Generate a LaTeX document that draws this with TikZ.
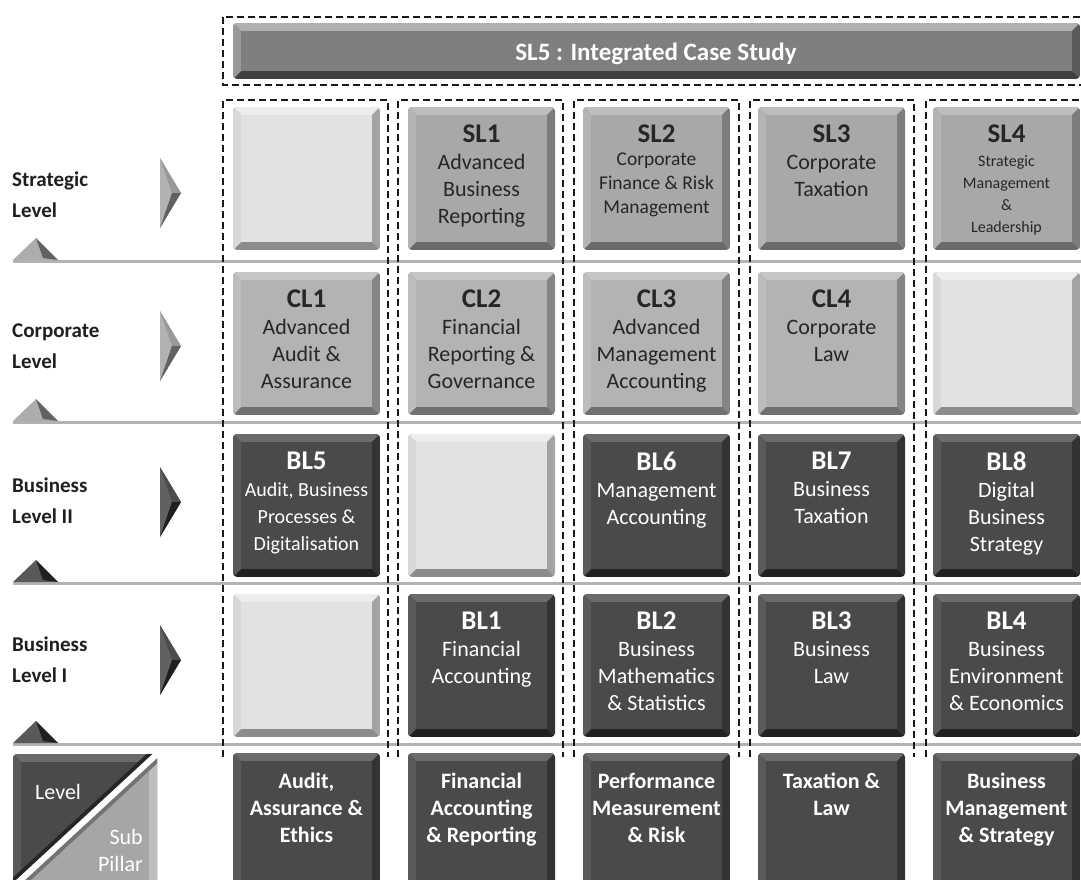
\documentclass[tikz,border=0pt]{standalone}
\usepackage{fontspec}
\setmainfont{Carlito}
\usepackage{xcolor}
\usetikzlibrary{positioning}

% tile shades: face, top, left, right, bottom
\definecolor{lgface}{HTML}{E2E2E2}
\definecolor{lgtop}{HTML}{EDEDED}
\definecolor{lgleft}{HTML}{D8D8D8}
\definecolor{lgright}{HTML}{A3A3A3}
\definecolor{lgbot}{HTML}{8C8C8C}
\definecolor{slface}{HTML}{A8A8A8}
\definecolor{sltop}{HTML}{BDBDBD}
\definecolor{slleft}{HTML}{B4B4B4}
\definecolor{slright}{HTML}{7C7C7C}
\definecolor{slbot}{HTML}{6A6A6A}
\definecolor{clface}{HTML}{B3B3B3}
\definecolor{cltop}{HTML}{C6C6C6}
\definecolor{clleft}{HTML}{BDBDBD}
\definecolor{clright}{HTML}{858585}
\definecolor{clbot}{HTML}{707070}
\definecolor{dkface}{HTML}{4A4A4A}
\definecolor{dktop}{HTML}{6B6B6B}
\definecolor{dkleft}{HTML}{5A5A5A}
\definecolor{dkright}{HTML}{333333}
\definecolor{dkbot}{HTML}{222222}
\definecolor{brface}{HTML}{7F7F7F}
\definecolor{brtop}{HTML}{B0B0B0}
\definecolor{brleft}{HTML}{9A9A9A}
\definecolor{brright}{HTML}{5A5A5A}
\definecolor{brbot}{HTML}{404040}
\definecolor{plface}{HTML}{A6A6A6}
\definecolor{pltop}{HTML}{BDBDBD}
\definecolor{plleft}{HTML}{B0B0B0}
\definecolor{plright}{HTML}{BEBEBE}
\definecolor{plbot}{HTML}{8A8A8A}

% bevelled tile: shade, x, y, width, height, bevel
\newcommand{\bevtile}[6]{%
  \begin{scope}
    \clip[rounded corners=4pt] (#2,#3) rectangle ({#2+#4},{#3+#5});
    \fill[fill=#1bot] (#2,#3) rectangle ({#2+#4},{#3+#5});
    \fill[fill=#1top] (#2,#3) -- ({#2+#4},#3) -- ({#2+#4-#6},{#3+#6}) -- ({#2+#6},{#3+#6}) -- cycle;
    \fill[fill=#1left] (#2,#3) -- ({#2+#6},{#3+#6}) -- ({#2+#6},{#3+#5-#6}) -- (#2,{#3+#5}) -- cycle;
    \fill[fill=#1right] ({#2+#4},#3) -- ({#2+#4},{#3+#5}) -- ({#2+#4-#6},{#3+#5-#6}) -- ({#2+#4-#6},{#3+#6}) -- cycle;
    \fill[fill=#1face] ({#2+#6},{#3+#6}) rectangle ({#2+#4-#6},{#3+#5-#6});
  \end{scope}}
\newcommand{\ttl}[1]{{\bfseries\fontsize{27}{27}\selectfont #1}}

\begin{document}
\begin{tikzpicture}[x=1pt, y=-1pt,
  tiletext/.style={anchor=north, align=center, inner sep=0pt, text=black!85,
    font=\fontsize{22}{27}\selectfont},
  darktext/.style={tiletext, text=white},
  pillartext/.style={darktext, font=\bfseries\fontsize{22}{27}\selectfont},
  levellabel/.style={anchor=north west, align=left, inner sep=0pt, text=black!88,
    font=\bfseries\fontsize{21}{31}\selectfont},
  dashbox/.style={draw=black!90, line width=2pt, dash pattern=on 7pt off 4pt},
  rowline/.style={draw=black!30, line width=3pt}]
  \useasboundingbox (0,0) rectangle (1081,879);
  \clip (0,0) rectangle (1081,879);

  % Level separators
  \foreach \yl in {261,422,583,744}
    \draw[rowline] (13,\yl) -- (1081,\yl);

  % Dashed groups: integrated case and the five pillars
  \draw[dashbox] (223,17) rectangle (1095,85);
  \foreach \xa/\xb in {223/388, 398/563, 574/739, 750/914, 926/1095}
    \draw[dashbox] (\xa,757) -- (\xa,100) -- (\xb,100) -- (\xb,757);

  % Integrated case study bar
  \bevtile{br}{233}{23}{847}{56}{8}
  \node[anchor=base, text=white, font=\bfseries\fontsize{25}{30}\selectfont] (sl5) at (656,60)
    {SL5 : Integrated Case Study};

  % Tiles (shade/left edge), one row at a time
  \foreach \s/\x in {lg/233, sl/408, sl/583, sl/758, sl/933}
    \bevtile{\s}{\x}{107}{147}{143}{8};
  \foreach \s/\x in {cl/233, cl/408, cl/583, cl/758, lg/933}
    \bevtile{\s}{\x}{272}{147}{143}{8};
  \foreach \s/\x in {dk/233, lg/408, dk/583, dk/758, dk/933}
    \bevtile{\s}{\x}{434}{147}{143}{8};
  \foreach \s/\x in {lg/233, dk/408, dk/583, dk/758, dk/933}
    \bevtile{\s}{\x}{594}{147}{143}{8};
  \foreach \x in {233,408,583,758,933}
    \bevtile{dk}{\x}{753}{147}{150}{8};

  % Strategic level
  \node[tiletext] (sl1) at (481.5,125) {\ttl{SL1}\\Advanced\\Business\\Reporting};
  \node[tiletext, font=\fontsize{19.5}{24}\selectfont] (sl2) at (656.5,125)
    {\ttl{SL2}\\[-1pt]Corporate\\Finance \& Risk\\Management};
  \node[tiletext] (sl3) at (831.5,125) {\ttl{SL3}\\Corporate\\Taxation};
  \node[tiletext, font=\fontsize{16}{22}\selectfont] (sl4) at (1006.5,125)
    {\ttl{SL4}\\[2pt]Strategic\\Management\\\&\\Leadership};
  % Corporate level
  \node[tiletext] (cl1) at (306.5,290) {\ttl{CL1}\\Advanced\\Audit \&\\Assurance};
  \node[tiletext] (cl2) at (481.5,290) {\ttl{CL2}\\Financial\\Reporting \&\\Governance};
  \node[tiletext] (cl3) at (656.5,290) {\ttl{CL3}\\Advanced\\Management\\Accounting};
  \node[tiletext] (cl4) at (831.5,290) {\ttl{CL4}\\Corporate\\Law};
  % Business level II
  \node[darktext, font=\fontsize{20}{27}\selectfont] (bl5) at (306.5,452)
    {\ttl{BL5}\\Audit, Business\\Processes \&\\Digitalisation};
  \node[darktext] (bl6) at (656.5,452) {\ttl{BL6}\\Management\\Accounting};
  \node[darktext] (bl7) at (831.5,452) {\ttl{BL7}\\Business\\Taxation};
  \node[darktext] (bl8) at (1006.5,452) {\ttl{BL8}\\Digital\\Business\\Strategy};
  % Business level I
  \node[darktext] (bl1) at (481.5,612) {\ttl{BL1}\\Financial\\Accounting};
  \node[darktext] (bl2) at (656.5,612) {\ttl{BL2}\\Business\\Mathematics\\\& Statistics};
  \node[darktext] (bl3) at (831.5,612) {\ttl{BL3}\\Business\\Law};
  \node[darktext] (bl4) at (1006.5,612) {\ttl{BL4}\\Business\\Environment\\\& Economics};
  % Pillars
  \node[pillartext] (paudit) at (306.5,773) {Audit,\\Assurance \&\\Ethics};
  \node[pillartext] (pfin) at (481.5,773) {Financial\\Accounting\\\& Reporting};
  \node[pillartext] (pperf) at (656.5,773) {Performance\\Measurement\\\& Risk};
  \node[pillartext] (ptax) at (831.5,773) {Taxation \&\\Law};
  \node[pillartext] (pbus) at (1006.5,773) {Business\\Management\\\& Strategy};

  % Level names
  \node[levellabel] (lvls) at (12,172) {Strategic\\Level};
  \node[levellabel] (lvlc) at (12,324) {Corporate\\Level};
  \node[levellabel] (lvlb2) at (12,478) {Business\\Level II};
  \node[levellabel] (lvlb1) at (12,637) {Business\\Level I};

  % Level pointers (centre/main/upper facet/lower facet)
  \foreach \yc/\ca/\cb/\cc in {193/black!30/black!40/black!62, 346/black!30/black!40/black!62,
      502/black!62/black!70/black!88, 660/black!62/black!70/black!88} {
    \fill[\ca] (160,{\yc-35}) -- (181,\yc) -- (160,{\yc+35}) -- cycle;
    \fill[\cb] (160,{\yc-35}) -- (181,\yc) -- (172,\yc) -- cycle;
    \fill[\cc] (172,\yc) -- (181,\yc) -- (160,{\yc+35}) -- cycle;
  }
  % Small markers on the separators
  \foreach \yl/\ca/\cb in {261/black!32/black!62, 422/black!32/black!62,
      583/black!65/black!88, 744/black!65/black!88} {
    \fill[\ca] (13,{\yl-1}) -- (36,{\yl-23}) -- (58,{\yl-1}) -- cycle;
    \fill[\cb] (36,{\yl-23}) -- (58,{\yl-1}) -- (43,{\yl-3}) -- cycle;
  }

  % Level / Sub Pillar key
  \coordinate (dga) at (157,754);
  \coordinate (dgb) at (13,887);
  \bevtile{dk}{13}{754}{144}{150}{8}
  \begin{scope}
    \clip (dga) -- (157,910) -- (13,910) -- (dgb) -- cycle;
    \bevtile{pl}{13}{754}{144}{150}{8}
    \draw[black!55, line width=14pt, shorten <=-8pt, shorten >=-8pt] (dga) -- (dgb);
  \end{scope}
  \begin{scope}
    \clip (dga) -- (13,754) -- (dgb) -- cycle;
    \draw[black!85, line width=14pt, shorten <=-8pt, shorten >=-8pt] (dga) -- (dgb);
  \end{scope}
  \draw[white, line width=6pt, shorten <=-8pt, shorten >=-8pt] (dga) -- (dgb);
  \node[anchor=base west, inner sep=0pt, text=white, font=\fontsize{22}{27}\selectfont]
    (keylevel) at (35,799) {Level};
  \node[anchor=north east, align=right, inner sep=0pt, text=white, font=\fontsize{22}{27}\selectfont]
    (keypillar) at (143,829) {Sub\\Pillar};
\end{tikzpicture}
\end{document}
